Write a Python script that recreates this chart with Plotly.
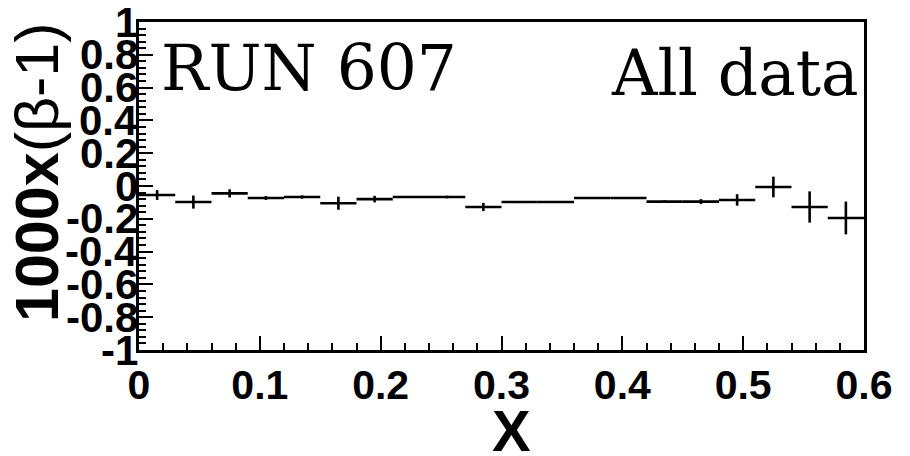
import plotly.graph_objects as go

# Data
x_centers = [0.015, 0.045, 0.075, 0.105, 0.135, 0.165, 0.195, 0.225, 0.255, 0.285,
             0.315, 0.345, 0.375, 0.405, 0.435, 0.465, 0.495, 0.525, 0.555, 0.585]
y_values = [-0.055, -0.098, -0.045, -0.073, -0.067, -0.105, -0.080, -0.067, -0.067, -0.128,
            -0.098, -0.098, -0.073, -0.073, -0.095, -0.095, -0.085, -0.006, -0.128, -0.195]
y_errors = [0.030, 0.040, 0.025, 0.012, 0.010, 0.040, 0.020, 0.006, 0.008, 0.025,
            0.006, 0.005, 0.006, 0.006, 0.008, 0.015, 0.035, 0.063, 0.095, 0.100]
x_half_widths = [0.015] * 20

x_tick_vals = [0, 0.1, 0.2, 0.3, 0.4, 0.5, 0.6]
x_tick_text = ["0", "0.1", "0.2", "0.3", "0.4", "0.5", "0.6"]
y_tick_vals = [1, 0.8, 0.6, 0.4, 0.2, 0, -0.2, -0.4, -0.6, -0.8, -1]
y_tick_text = ["1", "0.8", "0.6", "0.4", "0.2", "0", "-0.2", "-0.4", "-0.6", "-0.8", "-1"]

W, H = 910, 456
L, R, T, B = 139, 46, 22, 106
pw, ph = W - L - R, H - T - B


def px_to_paper_x(px):
    return (px - L) / pw


def px_to_paper_y(py):
    return (H - B - py) / ph


fig = go.Figure()
fig.add_trace(go.Scatter(
    x=x_centers, y=y_values, mode="markers",
    marker=dict(size=2, color="black"),
    error_x=dict(type="data", array=x_half_widths, symmetric=True,
                 color="black", thickness=2.6, width=0),
    error_y=dict(type="data", array=y_errors, symmetric=True,
                 color="black", thickness=2.6, width=0),
    showlegend=False, hoverinfo="skip",
))

bold_font = "Liberation Sans, Arial, Helvetica, sans-serif"

annotations = [
    dict(text="<b>1000x</b>(β-1)", xref="paper", yref="paper",
         x=px_to_paper_x(37), y=px_to_paper_y(172), xanchor="center", yanchor="middle",
         textangle=-90, showarrow=False,
         font=dict(family=bold_font, size=61, color="black")),
    dict(text="<b>X</b>", xref="paper", yref="paper",
         x=px_to_paper_x(511), y=px_to_paper_y(430), xanchor="center", yanchor="middle",
         showarrow=False,
         font=dict(family=bold_font, size=58, color="black")),
    dict(text="RUN 607", xref="paper", yref="paper",
         x=px_to_paper_x(159), y=px_to_paper_y(68), xanchor="left", yanchor="middle",
         showarrow=False,
         font=dict(family="DejaVu Serif, serif", size=63, color="black")),
    dict(text="All data", xref="paper", yref="paper",
         x=px_to_paper_x(861), y=px_to_paper_y(73), xanchor="right", yanchor="middle",
         showarrow=False,
         font=dict(family="DejaVu Serif, serif", size=63, color="black")),
]
# y tick labels placed on the y scale
for val, txt in zip(y_tick_vals, y_tick_text):
    annotations.append(dict(
        text="<b>%s</b>" % txt, xref="paper", yref="y",
        x=px_to_paper_x(139), y=val, xanchor="right", yanchor="middle",
        showarrow=False, borderpad=0,
        font=dict(family=bold_font, size=42, color="black")))

fig.update_layout(
    width=W, height=H,
    margin=dict(l=L, r=R, t=T, b=B, pad=0, autoexpand=False),
    paper_bgcolor="white", plot_bgcolor="white",
    xaxis=dict(
        range=[0, 0.6], tickvals=x_tick_vals, ticktext=x_tick_text,
        ticks="inside", ticklen=14, tickwidth=2, tickcolor="black",
        minor=dict(dtick=0.02, ticks="inside", ticklen=7, tickwidth=2, tickcolor="black"),
        showline=True, linewidth=3, linecolor="black", mirror=True,
        showgrid=False, zeroline=False, automargin=False,
        tickfont=dict(family=bold_font, size=41, color="black", weight="bold"),
        ticklabelstandoff=-3,
    ),
    yaxis=dict(
        range=[-1, 1], tickvals=y_tick_vals, showticklabels=False,
        ticks="inside", ticklen=14, tickwidth=2, tickcolor="black",
        minor=dict(dtick=0.04, ticks="inside", ticklen=7, tickwidth=2, tickcolor="black"),
        showline=True, linewidth=3, linecolor="black", mirror=True,
        showgrid=False, zeroline=False, automargin=False,
    ),
    annotations=annotations,
)

fig.write_html("out.html", config={"displayModeBar": False},
               post_script="document.body.style.margin='0px';")
